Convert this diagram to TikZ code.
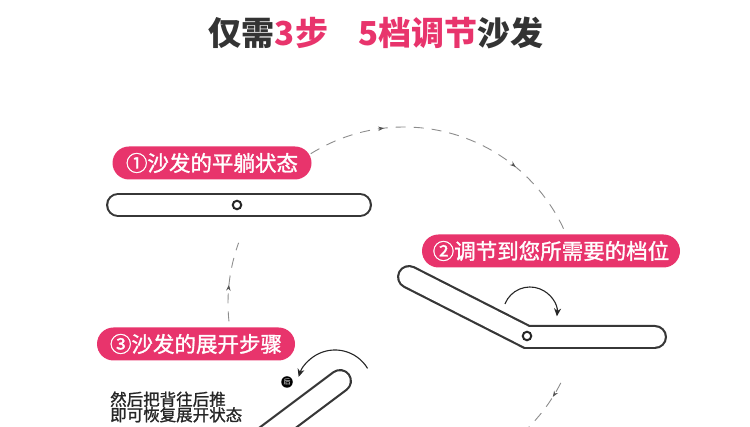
\documentclass[tikz,border=0pt]{standalone}
\usepackage{fontspec}
\usetikzlibrary{arrows.meta,decorations.markings}
\newfontfamily\cjk{Noto Sans CJK SC}
\newfontfamily\cjkmid[FakeBold=1.3]{Noto Sans CJK SC}
\definecolor{rose}{RGB}{232,52,108}
\definecolor{ink}{RGB}{51,51,51}
\definecolor{frame}{RGB}{55,55,55}
\definecolor{trail}{RGB}{140,140,140}
\begin{document}
\begin{tikzpicture}[x=1pt,y=1pt,
  tag/.style={fill=rose,text=white,rounded corners=16.5pt,minimum height=33pt,inner xsep=8pt,font=\cjkmid\fontsize{21.5}{24}\selectfont},
  sofa/.style={draw=frame,line width=2.2pt,double=white,double distance=19.6pt,line cap=round,line join=miter},
  hinge/.style={circle,draw=black!85,line width=2pt,fill=white,inner sep=0pt,minimum size=8.5pt},
  turn/.style={draw=black!85,line width=1.1pt,-{Stealth[length=8pt,width=7pt]}},
  orbit/.style={draw=trail,line width=0.9pt,dash pattern=on 10pt off 8pt},
  arrowat/.style={postaction={decorate,decoration={markings,mark=at position #1 with {\arrow[trail!60!black]{Stealth[length=6pt,width=4.5pt]}}}}}]
\useasboundingbox (0,0) rectangle (750,427);
\clip (0,0) rectangle (750,427);
\coordinate (O) at (404,124);
\draw[orbit,arrowat=0.25,arrowat=0.7] ([shift={(122:176)}]O) arc[start angle=122,end angle=20,radius=176];
\draw[orbit,arrowat=0.15] ([shift={(-27:176)}]O) arc[start angle=-27,end angle=-62,radius=176];
\draw[orbit,arrowat=0.46] ([shift={(186:176)}]O) arc[start angle=186,end angle=160,radius=176];
\node[font=\cjk\bfseries\fontsize{33}{36}\selectfont,text=ink] (title) at (376,394) {仅需\textcolor{rose}{3步}\hspace{30pt}\textcolor{rose}{5档调节}沙发};
\node[tag,minimum width=199pt] (stepA) at (212,264) {①沙发的平躺状态};
\node[tag,minimum width=258pt] (stepB) at (551,176) {②调节到您所需要的档位};
\node[tag,minimum width=198pt] (stepC) at (196,83) {③沙发的展开步骤};
\draw[sofa] (118,222) -- (360,222);
\node[hinge] (pivotA) at (237,222) {};
\draw[sofa] (409,150) -- (527,90) -- (655,90);
\node[hinge] (pivotB) at (527,91) {};
\coordinate (spinB) at (530,113);
\draw[turn] ([shift={(158:27)}]spinB) arc[start angle=158,end angle=-5,radius=27];
\draw[sofa] (340,46) -- (220,-44);
\node[circle,fill=black,inner sep=0pt,minimum size=11.5pt,text=white,font=\cjk\fontsize{7}{7}\selectfont] (back) at (287,45) {后};
\coordinate (spinC) at (335,39);
\draw[turn] ([shift={(31:38)}]spinC) arc[start angle=31,end angle=163,radius=38];
\node[anchor=west,align=left,inner sep=0pt,text=black!85,font=\cjkmid\fontsize{16.5}{15.5}\selectfont] (hint) at (110,20) {然后把背往后推\\即可恢复展开状态};
\end{tikzpicture}
\end{document}
